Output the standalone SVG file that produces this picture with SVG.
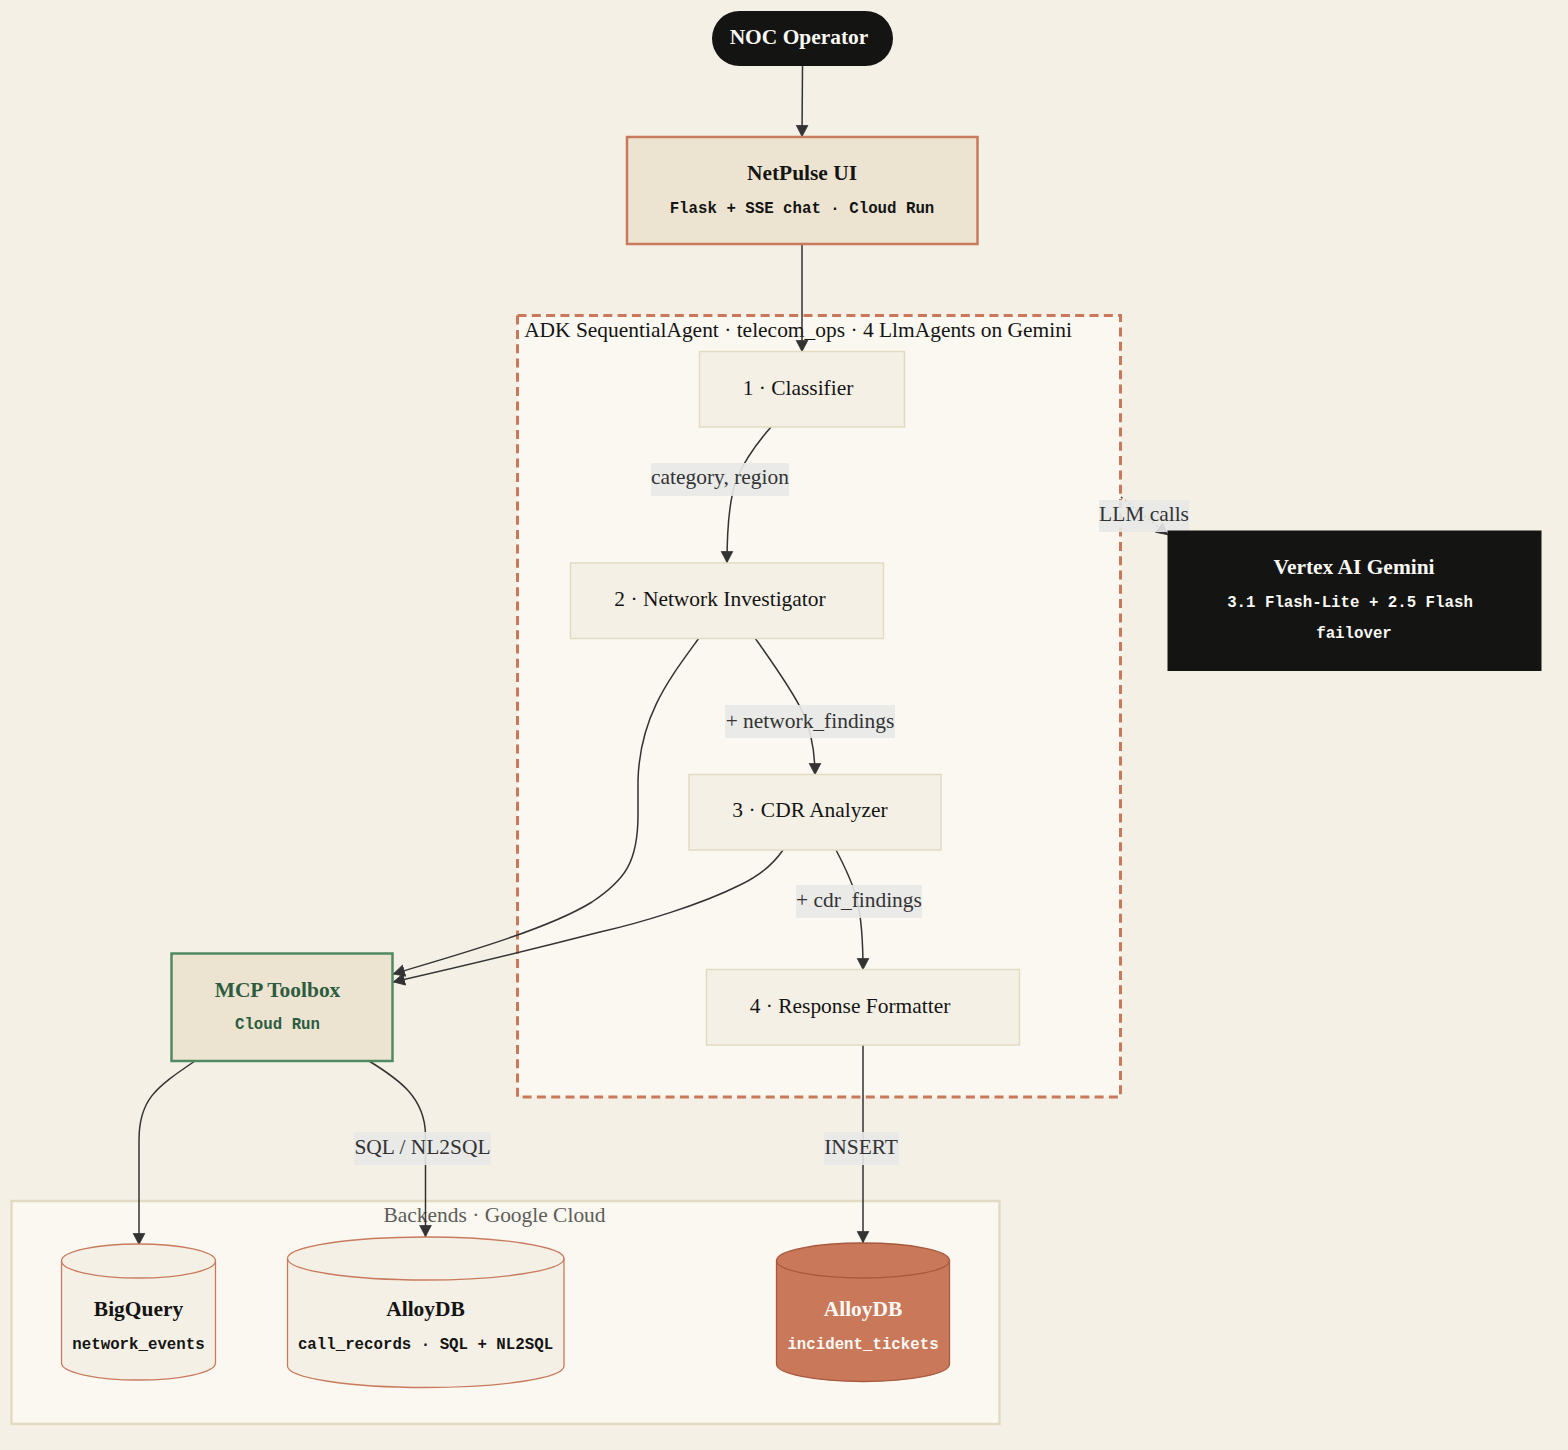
<svg xmlns="http://www.w3.org/2000/svg" width="1568" height="1450" viewBox="0 0 1568 1450">
<style>
text{font-family:"Liberation Serif","Times New Roman",serif;text-anchor:middle;fill:#141413}
.t{font-size:21.45px;font-weight:700}
.s{font-family:"Liberation Mono","Courier New",monospace;font-size:15.75px;font-weight:700}
.n{font-size:21.45px}
.l{font-size:21.45px;fill:#333}
.lb{fill:#e8e8e8;fill-opacity:.9}
.e{fill:none;stroke:#333;stroke-width:1.5;marker-end:url(#a)}
.box{fill:#f5f0e6;stroke:#e3dac2;stroke-width:1.5}
.c{stroke:#c97a5c;stroke-width:1.3;fill:#f5f0e6}
.hot{stroke:#a85a3e;fill:#c9785a}
</style>
<defs>
<marker id="a" markerUnits="userSpaceOnUse" markerWidth="14" markerHeight="14" refX="12" refY="7" orient="auto"><path d="M.4 1.200L11.600 7L.4 12.800z" fill="#333" stroke="#333" stroke-width=".8"/></marker>
</defs>
<rect width="1568" height="1450" fill="#f4f0e6"/>
<g id="clusters">
<rect x="517.500" y="315.500" width="603" height="781.500" fill="#faf8f1" stroke="#c9785a" stroke-width="3" stroke-dasharray="9 5.300"/>
<text x="798" y="337" class="n">ADK SequentialAgent · telecom_ops · 4 LlmAgents on Gemini</text>
<rect x="11.500" y="1201" width="988" height="223" fill="#faf8f1" stroke="#e3dac2" stroke-width="2.500"/>
<text x="494.500" y="1222" class="n" style="fill:#5e5d59">Backends · Google Cloud</text>
</g>
<g id="connectors">
<path class="e" d="M802.500 66L802 137"/>
<path class="e" d="M802 244V352"/>
<path class="e" d="M771 427C757 443 744 462 737 478C730 496 727 530 727 563"/>
<path class="e" d="M755 638C775 666 794 693 803 713C811 731 815 750 815 775"/>
<path class="e" d="M836 850C845 867 853 884 857 900C861 916 863 940 863 970"/>
<path class="e" d="M699 638C670 678 640 715 638 780V815C638 862 625 880 592 902C547 930 450 957 393 974"/>
<path class="e" d="M783 850C772 866 757 877 740 885C700 905 640 923 600 932C530 950 450 969 393 982"/>
<path class="e" d="M195 1061C155 1088 139 1100 139 1140V1245"/>
<path class="e" d="M369 1061C400 1080 425 1098 425.500 1135V1237"/>
<path class="e" d="M863 1045V1243"/>
<path class="e" d="M1121 497L1168 535" stroke-dasharray="2 3"/>
</g>
<g id="edge-labels">
<rect class="lb" x="651" y="463" width="138" height="33"/><text class="l" x="720" y="484">category, region</text>
<rect class="lb" x="725" y="705" width="170" height="33"/><text class="l" x="810" y="728">+ network_findings</text>
<rect class="lb" x="796" y="885" width="126" height="33"/><text class="l" x="859" y="907">+ cdr_findings</text>
<rect class="lb" x="354" y="1132" width="137" height="33"/><text class="l" x="422.500" y="1154">SQL / NL2SQL</text>
<rect class="lb" x="824" y="1132" width="75" height="33"/><text class="l" x="861" y="1154">INSERT</text>
<rect class="lb" x="1099" y="500" width="90" height="32"/><text class="l" x="1144" y="521">LLM calls</text>
</g>
<g id="noc"><rect x="712" y="11" width="181" height="55" rx="27.500" fill="#141413"/><text x="799" y="44" class="t" style="fill:#faf9f5">NOC Operator</text></g>
<g id="netpulse"><rect x="627" y="137" width="350.500" height="107" fill="#ece4d1" stroke="#c97a5c" stroke-width="2.500"/><text x="802" y="180" class="t">NetPulse UI</text><text x="802" y="213" class="s">Flask + SSE chat · Cloud Run</text></g>
<g id="classifier"><rect class="box" x="699.500" y="351.500" width="205" height="75.500"/><text class="n" x="798" y="395">1 · Classifier</text></g>
<g id="investigator"><rect class="box" x="570.500" y="563" width="313" height="75.500"/><text class="n" x="720" y="606">2 · Network Investigator</text></g>
<g id="cdr"><rect class="box" x="689" y="774.500" width="252" height="75.500"/><text class="n" x="810" y="817">3 · CDR Analyzer</text></g>
<g id="formatter"><rect class="box" x="706.500" y="969.500" width="313" height="75.500"/><text class="n" x="850" y="1013">4 · Response Formatter</text></g>
<g id="gemini"><rect x="1167.500" y="530.500" width="374" height="140.500" fill="#141413"/><text x="1354" y="574" class="t" style="fill:#faf9f5">Vertex AI Gemini</text><text x="1350" y="607" class="s" style="fill:#faf9f5">3.1 Flash-Lite + 2.5 Flash</text><text x="1354" y="638" class="s" style="fill:#faf9f5">failover</text></g>
<g id="mcp"><rect x="171.500" y="953.500" width="221" height="107.500" fill="#ece4d1" stroke="#4f8a63" stroke-width="2.500"/><text x="277.500" y="997" class="t" style="fill:#2e5c40">MCP Toolbox</text><text x="277.500" y="1029" class="s" style="fill:#2e5c40">Cloud Run</text></g>
<g id="bigquery"><path class="c" d="M61.500 1261C61.500 1251.600 96 1244 138.500 1244S215.500 1251.600 215.500 1261V1363C215.500 1372.400 181 1380 138.500 1380S61.500 1372.400 61.500 1363Z"/><path class="c" style="fill:none" d="M61.500 1261C61.500 1270.400 96 1278 138.500 1278S215.500 1270.400 215.500 1261"/><text class="t" x="138.500" y="1316">BigQuery</text><text class="s" x="138.500" y="1349">network_events</text></g>
<g id="alloy-records"><path class="c" d="M287.500 1258.500C287.500 1246.500 349.500 1237 425.500 1237S564 1246.500 564 1258.500V1366C564 1378 502 1387.500 425.500 1387.500S287.500 1378 287.500 1366Z"/><path class="c" style="fill:none" d="M287.500 1258.500C287.500 1270.500 349.500 1280 425.500 1280S564 1270.500 564 1258.500"/><text class="t" x="425.500" y="1316">AlloyDB</text><text class="s" x="425.500" y="1349">call_records · SQL + NL2SQL</text></g>
<g id="alloy-tickets"><path class="c hot" d="M776.500 1260.500C776.500 1250.600 815 1243 863 1243S949.500 1250.600 949.500 1260.500V1364C949.500 1373.900 911 1381.500 863 1381.500S776.500 1373.900 776.500 1364Z"/><path class="c hot" style="fill:none" d="M776.500 1260.500C776.500 1270.400 815 1278 863 1278S949.500 1270.400 949.500 1260.500"/><text class="t" x="863" y="1316" style="fill:#faf9f5">AlloyDB</text><text class="s" x="863" y="1349" style="fill:#faf9f5">incident_tickets</text></g>
</svg>
